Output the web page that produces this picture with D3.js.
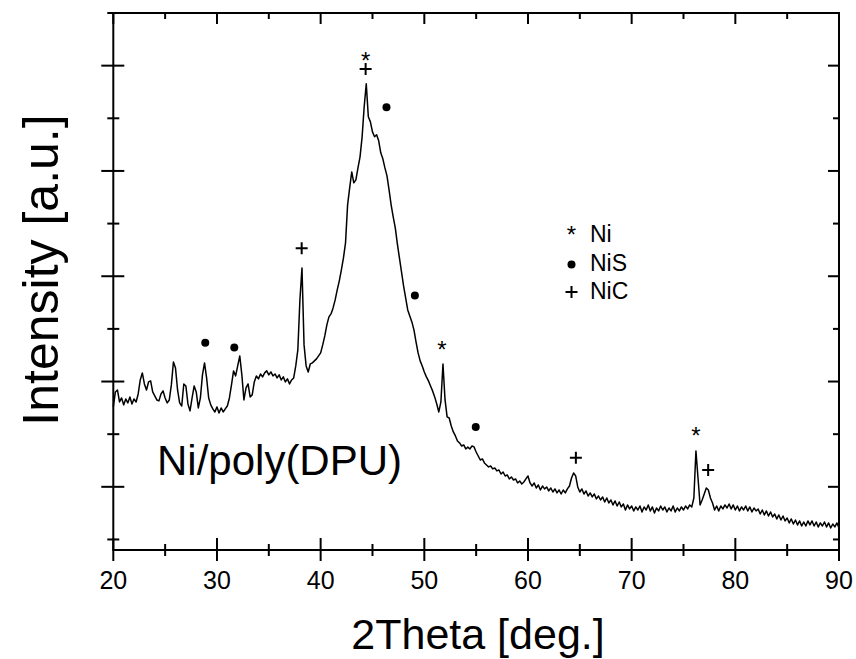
<!DOCTYPE html>
<html><head><meta charset="utf-8">
<script src="https://cdn.jsdelivr.net/npm/d3@7"></script>
<style>
body{margin:0;background:#fff}
svg{display:block}
text{font-family:"Liberation Sans",Arial,Helvetica,sans-serif;fill:#000}
</style>
</head><body>
<svg id="chart" width="856" height="659"></svg>
<script>
// ---- data ----
const thetaStart = 20, thetaStep = 0.2;   // 2Theta sampling grid (deg.)
const intensity = [
1759,1901,1920,1806,1844,1778,1835,1797,1854,1787,
1835,1806,1882,2015,2082,1977,1920,1996,2006,1901,
1863,1825,1816,1882,1911,1844,1797,1825,1968,2186,
2129,1920,1797,1768,1977,1958,1787,1721,1844,1958,
1901,1749,1844,2063,2177,2034,1844,1778,1740,1711,
1759,1702,1749,1711,1740,1768,1844,1968,2101,2053,
2148,2243,2063,1825,1939,1977,1854,1873,1996,2053,
2025,2072,2044,2082,2101,2063,2091,2053,2072,2034,
2063,2015,2044,1996,2025,1977,2015,2034,2148,2300,
2775,3079,2348,2148,2091,2167,2177,2196,2215,2243,
2272,2348,2433,2538,2614,2642,2699,2775,2870,2956,
3060,3174,3317,3678,3839,3991,3887,3915,4029,4134,
4324,4609,4827,4514,4466,4371,4324,4343,4286,4172,
4115,4029,3953,3820,3678,3564,3459,3307,3174,3041,
2908,2794,2680,2623,2566,2490,2376,2272,2196,2148,
2091,2044,2006,1958,1911,1854,1787,1711,1806,2167,
1825,1664,1654,1578,1521,1483,1436,1417,1388,1398,
1360,1379,1360,1388,1379,1331,1293,1255,1265,1227,
1208,1189,1198,1170,1179,1151,1160,1122,1141,1103,
1113,1075,1094,1065,1075,1037,1056,1027,1046,1075,
1103,1037,1008,1037,989,1018,970,1008,980,999,
961,989,951,980,942,970,932,970,942,980,
1008,1084,1132,1103,999,951,980,932,961,913,
942,904,932,885,913,875,904,856,894,847,
875,828,866,818,856,809,837,780,828,790,
818,771,809,780,818,761,809,780,828,771,
809,752,799,771,818,780,809,761,799,771,
818,761,799,771,809,780,818,790,828,809,
894,1341,1084,828,875,932,989,970,894,847,
780,818,771,818,790,828,799,837,790,828,
780,818,771,809,780,818,771,809,761,799,
771,790,742,780,733,771,723,761,714,742,
695,733,685,723,676,704,657,695,647,685,
638,676,628,666,628,676,638,676,628,666,
619,657,628,666,619,657,609,647,619,657,
609
];

const xTicks = [20,30,40,50,60,70,80,90];
const xMinorTicks = [25,35,45,55,65,75,85];
const yTicks = [1000,2000,3000,4000,5000];
const yMinorTicks = [500,1500,2500,3500,4500,5500];

// phase markers placed above the reflections
const markTheta     = [44.34, 44.34, 46.35, 38.17, 28.87, 31.67, 49.09, 51.70, 54.96, 64.62, 76.19, 77.38];
const markIntensity = [5103,  4967,  4604,  3266,  2369,  2322,  2816,  2355,  1569,  1277,  1540,  1160];
const markSymbol    = ['*',   '+',   'o',   '+',   'o',   'o',   'o',   '*',   'o',   '+',   '*',   '+'];

const legendSymbols = ['*','o','+'];
const legendLabels  = ['Ni','NiS','NiC'];

const sampleLabel = 'Ni/poly(DPU)';
const xTitle = '2Theta [deg.]';
const yTitle = 'Intensity [a.u.]';

// ---- layout ----
const W = 856, H = 659;
const m = {left:113.3, right:17, top:13, bottom:109};
const svg = d3.select('#chart');

const x = d3.scaleLinear().domain([20,90]).range([m.left, W - m.right]);
const y = d3.scaleLinear().domain([400,5500]).range([H - m.bottom, m.top]);

const series = intensity.map((v,i) => [thetaStart + i*thetaStep, v]);

// curve
svg.append('path')
  .datum(series)
  .attr('fill','none')
  .attr('stroke','#000')
  .attr('stroke-width',1.5)
  .attr('stroke-linejoin','round')
  .attr('d', d3.line().x(d => x(d[0])).y(d => y(d[1])));

// frame
const x0 = x(20), x1 = x(90), y0 = y(400), y1 = y(5500);
svg.append('rect')
  .attr('x',x0).attr('y',y1).attr('width',x1-x0).attr('height',y0-y1)
  .attr('fill','none').attr('stroke','#000').attr('stroke-width',2);

const tk = svg.append('g').attr('stroke','#000').attr('stroke-width',2);
xTicks.forEach(t => tk.append('line').attr('x1',x(t)).attr('x2',x(t)).attr('y1',y0-12).attr('y2',y0+11));
xMinorTicks.forEach(t => tk.append('line').attr('x1',x(t)).attr('x2',x(t)).attr('y1',y0-6).attr('y2',y0+6));
xTicks.forEach(t => tk.append('line').attr('x1',x(t)).attr('x2',x(t)).attr('y1',y1).attr('y2',y1+11));
xMinorTicks.forEach(t => tk.append('line').attr('x1',x(t)).attr('x2',x(t)).attr('y1',y1).attr('y2',y1+6));
yTicks.forEach(t => tk.append('line').attr('y1',y(t)).attr('y2',y(t)).attr('x1',x0-12).attr('x2',x0+11));
yMinorTicks.forEach(t => tk.append('line').attr('y1',y(t)).attr('y2',y(t)).attr('x1',x0-6).attr('x2',x0+6));
yTicks.forEach(t => tk.append('line').attr('y1',y(t)).attr('y2',y(t)).attr('x1',x1-11).attr('x2',x1));
yMinorTicks.forEach(t => tk.append('line').attr('y1',y(t)).attr('y2',y(t)).attr('x1',x1-6).attr('x2',x1));

// x tick labels
svg.append('g').selectAll('text').data(xTicks).join('text')
  .attr('x', d => x(d)).attr('y', y0 + 39)
  .attr('text-anchor','middle').attr('font-size',25)
  .text(d => d);

// axis titles
svg.append('text').attr('x',478).attr('y',649)
  .attr('text-anchor','middle').attr('font-size',43).text(xTitle);
svg.append('text').attr('transform','translate(58,270) rotate(-90)')
  .attr('text-anchor','middle').attr('font-size',50).text(yTitle);

// sample label
svg.append('text').attr('x',157).attr('y',475).attr('font-size',42).text(sampleLabel);

// symbol drawer
function drawSymbol(g, s, cx, cy){
  if (s === '*') {
    g.append('text').attr('x',cx).attr('y',cy).attr('dy','0.58em')
      .attr('text-anchor','middle').attr('font-size',24).text('*');
  } else if (s === '+') {
    g.append('path').attr('d',`M${cx-6},${cy}H${cx+6}M${cx},${cy-6}V${cy+6}`)
      .attr('stroke','#000').attr('stroke-width',2).attr('fill','none');
  } else {
    g.append('circle').attr('cx',cx).attr('cy',cy).attr('r',4).attr('fill','#000');
  }
}

const mk = svg.append('g');
markSymbol.forEach((s,i) => drawSymbol(mk, s, x(markTheta[i]), y(markIntensity[i])));

// legend
const lg = svg.append('g');
const legendY = [229, 264.5, 292];
const legendBase = [242, 270.5, 299];
legendSymbols.forEach((s,i) => {
  drawSymbol(lg, s, 571.5, legendY[i]);
  lg.append('text').attr('x',590).attr('y',legendBase[i]).attr('font-size',23).text(legendLabels[i]);
});
</script>
</body></html>
